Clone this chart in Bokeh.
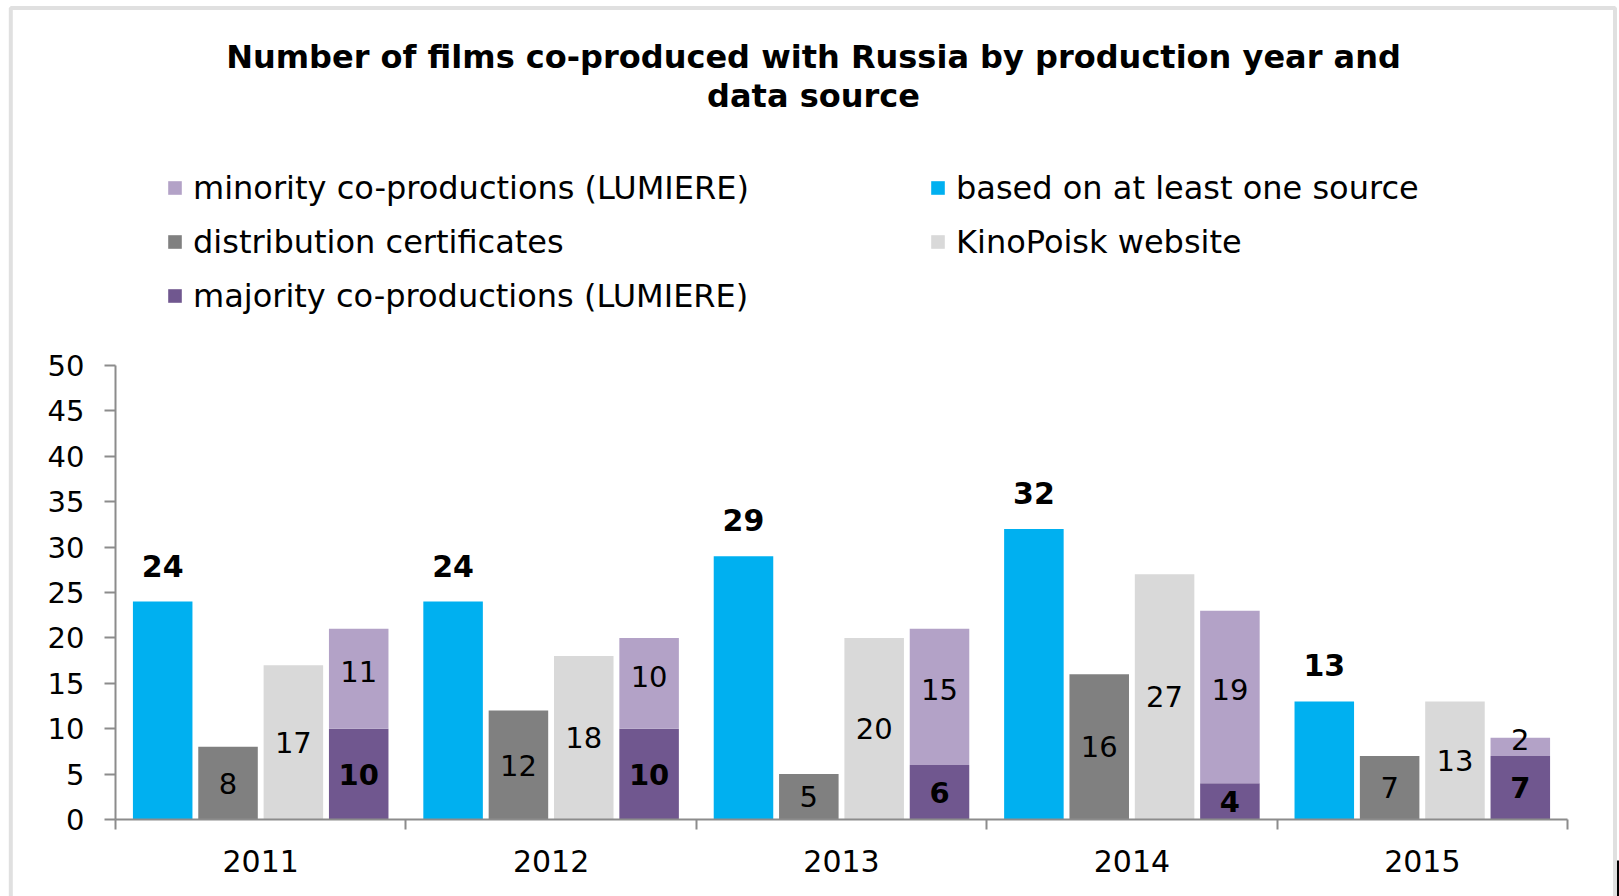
import numpy as np
from bokeh.plotting import figure
from bokeh.models import (ColumnDataSource, Range1d, LinearAxis, FixedTicker, Legend,
                          LegendItem, Label, BoxAnnotation)
from bokeh.transform import dodge
from bokeh.core.properties import value
from bokeh.embed import file_html
from bokeh.resources import INLINE

# ---------------- data ----------------
years = ["2011", "2012", "2013", "2014", "2015"]
at_least_one = [24, 24, 29, 32, 13]          # based on at least one source
distribution = [8, 12, 5, 16, 7]             # distribution certificates
kinopoisk = [17, 18, 20, 27, 13]             # KinoPoisk website
majority = [10, 10, 6, 4, 7]                 # majority co-productions (LUMIERE)
minority = [11, 10, 15, 19, 2]               # minority co-productions (LUMIERE)
y_ticks = [0, 5, 10, 15, 20, 25, 30, 35, 40, 45, 50]
title_lines = ["Number of films co-produced with Russia by production year and",
               "data source"]
series_names = {
    "minority": "minority co-productions (LUMIERE)",
    "distribution": "distribution certificates",
    "majority": "majority co-productions (LUMIERE)",
    "at_least_one": "based on at least one source",
    "kinopoisk": "KinoPoisk website",
}

# ---------------- styles / layout ----------------
BLUE = "#00B0F0"
GRAY = "#808080"
LIGHT = "#D9D9D9"
MINOR = "#B3A2C7"
MAJOR = "#70578F"
AXIS = "#8C8C8C"
FONT = "DejaVu Sans"

W, H = 1619, 896
# pixel position of the plot area inside the canvas
PA_LEFT, PA_RIGHT, PA_TOP, PA_BOTTOM = 115, 1567, 365, 819
Y_MAX = 50

n = len(years)
idx = list(range(n))
cat_px = (PA_RIGHT - PA_LEFT) / n
unit_px = (PA_BOTTOM - PA_TOP) / Y_MAX
x_range = Range1d(-0.5 - PA_LEFT / cat_px, n - 0.5 + (W - PA_RIGHT) / cat_px)
y_range = Range1d(-(H - PA_BOTTOM) / unit_px, Y_MAX + PA_TOP / unit_px)

maj = np.array(majority)
mino = np.array(minority)
src = ColumnDataSource(dict(
    idx=idx,
    a=at_least_one, d=distribution, k=kinopoisk, maj=majority, mino=minority,
    a_lbl=[str(v) for v in at_least_one],
    d_lbl=[str(v) for v in distribution],
    k_lbl=[str(v) for v in kinopoisk],
    maj_lbl=[str(v) for v in majority],
    min_lbl=[str(v) for v in minority],
    d_mid=[v / 2 for v in distribution],
    k_mid=[v / 2 for v in kinopoisk],
    maj_mid=list(maj / 2),
    min_mid=list(maj + mino / 2),
))

p = figure(width=W, height=H, x_range=x_range, y_range=y_range,
           x_axis_type=None, y_axis_type=None, output_backend="svg", toolbar_location=None,
           min_border=0, min_border_left=0, min_border_right=0,
           min_border_top=0, min_border_bottom=0)
p.outline_line_color = None
p.background_fill_color = "white"
p.border_fill_color = "white"

BW = 0.205
OFF = [-0.3375, -0.1125, 0.1125, 0.3375]

r_a = p.vbar(x=dodge("idx", OFF[0]), top="a", width=BW, source=src,
             fill_color=BLUE, line_color=None)
r_d = p.vbar(x=dodge("idx", OFF[1]), top="d", width=BW, source=src,
             fill_color=GRAY, line_color=None)
r_k = p.vbar(x=dodge("idx", OFF[2]), top="k", width=BW, source=src,
             fill_color=LIGHT, line_color=None)
r_maj, r_min = p.vbar_stack(["maj", "mino"], x=dodge("idx", OFF[3]), width=BW, source=src,
                            fill_color=[MAJOR, MINOR], line_color=None)

common = dict(source=src, text_font=value(FONT), text_align="center", text_color="black")
p.text(x=dodge("idx", OFF[0]), y="a", text="a_lbl", text_baseline="alphabetic", y_offset=-36,
       text_font_size="30px", text_font_style="bold", **common)
p.text(x=dodge("idx", OFF[1]), y="d_mid", text="d_lbl", text_baseline="middle",
       text_font_size="29px", **common)
p.text(x=dodge("idx", OFF[2]), y="k_mid", text="k_lbl", text_baseline="middle",
       text_font_size="29px", **common)
p.text(x=dodge("idx", OFF[3]), y="maj_mid", text="maj_lbl", text_baseline="middle",
       text_font_size="29px", text_font_style="bold", **common)
p.text(x=dodge("idx", OFF[3]), y="min_mid", text="min_lbl", text_baseline="middle", y_offset=-7,
       text_font_size="29px", **common)

# axes (fixed in place at the plot-area edges)
xaxis = LinearAxis(ticker=FixedTicker(ticks=idx, minor_ticks=[i - 0.5 for i in range(n + 1)]),
                   major_label_overrides={i: y for i, y in enumerate(years)},
                   fixed_location=0, bounds=(-0.5, n - 0.5),
                   major_tick_out=0, major_tick_in=0, minor_tick_out=10, minor_tick_in=0,
                   axis_line_color=AXIS, axis_line_width=2,
                   minor_tick_line_color=AXIS, minor_tick_line_width=2,
                   major_label_text_font=FONT, major_label_text_font_size="30px",
                   major_label_text_color="black", major_label_standoff=20)
p.add_layout(xaxis, "below")

yaxis = LinearAxis(ticker=FixedTicker(ticks=y_ticks, minor_ticks=[]),
                   fixed_location=-0.5, bounds=(0, Y_MAX),
                   major_tick_out=11, major_tick_in=0, minor_tick_out=0, minor_tick_in=0,
                   axis_line_color=AXIS, axis_line_width=2,
                   major_tick_line_color=AXIS, major_tick_line_width=2,
                   major_label_text_font=FONT, major_label_text_font_size="29px",
                   major_label_text_color="black", major_label_standoff=20)
p.add_layout(yaxis, "left")

# title (two lines)
for line, base in zip(title_lines, [56.5, 95.5]):
    p.add_layout(Label(x=813, y=H - base, x_units="screen", y_units="screen",
                       text=line, text_align="center", text_baseline="alphabetic",
                       text_font=FONT, text_font_size="32px", text_font_style="bold",
                       text_color="black"))

# legend
items = [
    LegendItem(label=series_names["minority"], renderers=[r_min]),
    LegendItem(label=series_names["distribution"], renderers=[r_d]),
    LegendItem(label=series_names["majority"], renderers=[r_maj]),
    LegendItem(label=series_names["at_least_one"], renderers=[r_a]),
    LegendItem(label=series_names["kinopoisk"], renderers=[r_k]),
]
legend = Legend(items=items, location=(166, H - 314.5), orientation="vertical",
                nrows=3, glyph_width=17, glyph_height=17, label_standoff=10,
                label_height=33, label_width=720, spacing=16, padding=0, margin=0,
                label_text_font=FONT, label_text_font_size="32px", label_text_color="black",
                border_line_color=None, background_fill_alpha=0)
p.add_layout(legend, "center")

# chart-area frame
p.add_layout(BoxAnnotation(left=10.3, right=1614.5, top=H - 7.5, bottom=-60,
                           left_units="screen", right_units="screen", top_units="screen",
                           bottom_units="screen", fill_alpha=0, line_color="#999999",
                           line_width=4))
p.add_layout(BoxAnnotation(left=1616.5, right=1619, top=H - 860, bottom=-60,
                           left_units="screen", right_units="screen", top_units="screen",
                           bottom_units="screen", fill_color="black", fill_alpha=1,
                           line_color=None))

open("out.html", "w").write(file_html(p, INLINE))
